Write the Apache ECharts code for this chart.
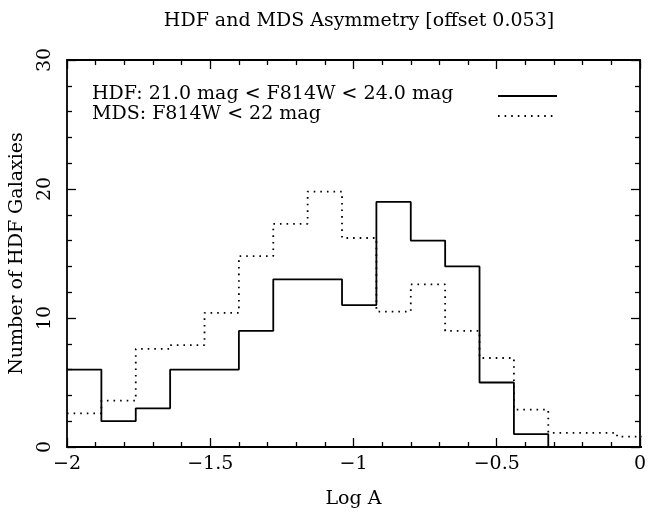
<!DOCTYPE html>
<html>
<head>
<meta charset="utf-8">
<script src="https://cdn.jsdelivr.net/npm/echarts@6/dist/echarts.min.js"></script>
<style>
html,body{margin:0;padding:0;background:#fff;}
#chart{width:649px;height:514px;}
</style>
</head>
<body>
<div id="chart"></div>
<script>
// Bin edges of the histograms (Log A)
const binEdges = [-2, -1.88, -1.76, -1.64, -1.52, -1.40, -1.28, -1.16, -1.04, -0.92, -0.80, -0.68, -0.56, -0.44, -0.32, -0.20, -0.08, 0.04];
// HDF counts per bin (solid)
const hdfCounts = [6, 2, 3, 6, 6, 9, 13, 13, 11, 19, 16, 14, 5, 1, 0, 0, 0];
// MDS scaled counts per bin (dotted)
const mdsCounts = [2.6, 3.6, 7.6, 7.9, 10.4, 14.8, 17.3, 19.8, 16.2, 10.5, 12.6, 9.0, 6.9, 2.9, 1.1, 1.1, 0.8];
// Axis ticks
const xTicks = [-2, -1.5, -1, -0.5, 0];
const yTicks = [0, 10, 20, 30];
const titleText = 'HDF and MDS Asymmetry [offset 0.053]';
const legendLabels = ['HDF: 21.0 mag < F814W < 24.0 mag', 'MDS: F814W < 22 mag'];

function stepData(counts) {
  const pts = counts.map((v, i) => [binEdges[i], v]);
  pts.push([binEdges[counts.length], counts[counts.length - 1]]);
  return pts;
}

const FONT = 'DejaVu Serif';
const FS = 19;
const chart = echarts.init(document.getElementById('chart'), null, {renderer: 'canvas'});

const fmtNum = v => String(v).replace('-', '\u2212');

const baseX = {
  type: 'value', min: xTicks[0], max: xTicks[xTicks.length - 1], interval: 0.5,
  axisLine: {show: true, onZero: false, lineStyle: {color: '#000', width: 1.8}},
  axisTick: {show: true, inside: true, length: 9, lineStyle: {color: '#000', width: 1.3}},
  minorTick: {show: true, splitNumber: 5, length: 5, lineStyle: {color: '#000', width: 1.3}},
  splitLine: {show: false}
};
const baseY = {
  type: 'value', min: yTicks[0], max: yTicks[yTicks.length - 1], interval: 10,
  axisLine: {show: true, onZero: false, lineStyle: {color: '#000', width: 1.8}},
  axisTick: {show: true, inside: true, length: 9, lineStyle: {color: '#000', width: 1.3}},
  minorTick: {show: true, splitNumber: 5, length: 5, lineStyle: {color: '#000', width: 1.3}},
  splitLine: {show: false}
};

chart.setOption({
  animation: false,
  backgroundColor: '#fff',
  title: {
    text: titleText, left: 354, top: 7, textAlign: 'center',
    textStyle: {fontFamily: FONT, fontSize: FS, fontWeight: 'normal', color: '#000'}
  },
  grid: {left: 65, right: 8, top: 60, bottom: 64},
  xAxis: [
    Object.assign({}, baseX, {
      position: 'bottom',
      name: 'Log A', nameLocation: 'middle', nameGap: 43,
      nameTextStyle: {fontFamily: FONT, fontSize: FS, color: '#000'},
      axisLabel: {show: true, margin: 8, fontFamily: FONT, fontSize: FS, color: '#000',
        formatter: v => fmtNum(v)}
    }),
    Object.assign({}, baseX, {position: 'top', axisLabel: {show: false}})
  ],
  yAxis: [
    Object.assign({}, baseY, {
      position: 'left',
      name: 'Number of HDF Galaxies', nameLocation: 'middle', nameGap: 40, nameRotate: 90,
      nameTextStyle: {fontFamily: FONT, fontSize: FS, color: '#000'},
      axisLabel: {show: true, rotate: 90, margin: 12, fontFamily: FONT, fontSize: FS, color: '#000',
        formatter: v => fmtNum(v)}
    }),
    Object.assign({}, baseY, {position: 'right', axisLabel: {show: false}})
  ],
  series: [
    {
      name: 'HDF', type: 'line', step: 'end', xAxisIndex: 0, yAxisIndex: 0,
      data: stepData(hdfCounts), symbol: 'none',
      lineStyle: {color: '#000', width: 1.8, type: 'solid'}
    },
    {
      name: 'MDS', type: 'line', step: 'end', xAxisIndex: 0, yAxisIndex: 0,
      data: stepData(mdsCounts), symbol: 'none',
      lineStyle: {color: '#000', width: 1.8, type: [1.6, 5]}
    }
  ],
  graphic: [
    {type: 'text', left: 92, top: 85,
      style: {text: legendLabels[0], font: FS + 'px "DejaVu Serif"', fill: '#000'}},
    {type: 'text', left: 92, top: 105,
      style: {text: legendLabels[1], font: FS + 'px "DejaVu Serif"', fill: '#000'}},
    {type: 'line', shape: {x1: 498, y1: 96, x2: 557, y2: 96},
      style: {stroke: '#000', lineWidth: 1.8}},
    {type: 'line', shape: {x1: 498, y1: 116, x2: 557, y2: 116},
      style: {stroke: '#000', lineWidth: 1.8, lineDash: [1.6, 5]}}
  ]
});
</script>
</body>
</html>
